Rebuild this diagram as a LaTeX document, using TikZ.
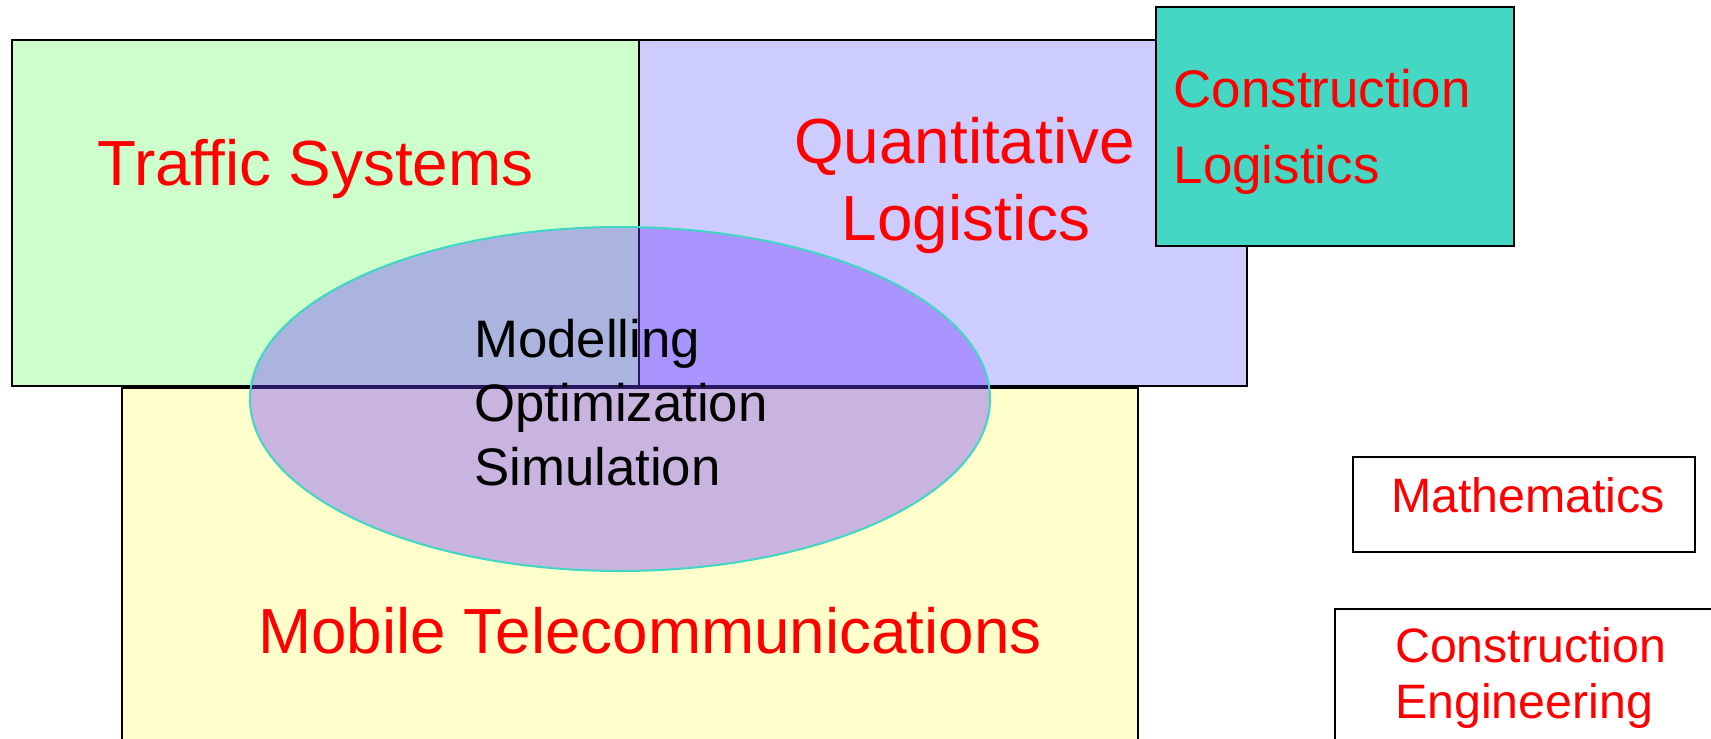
\documentclass[tikz,border=0pt]{standalone}
\usepackage{fontspec}
\setmainfont{Liberation Sans}
\usetikzlibrary{shapes.geometric}

\definecolor{trafficgreen}{RGB}{204,255,204}
\definecolor{logisticsblue}{RGB}{204,204,255}
\definecolor{mobileyellow}{RGB}{255,255,204}
\definecolor{constructionteal}{RGB}{68,216,196}
\definecolor{methodviolet}{RGB}{115,60,255}
\definecolor{ringturquoise}{RGB}{64,214,196}

\tikzset{
  area/.style={draw=black, line width=2.2pt, inner sep=0pt, anchor=north west},
  hugelabel/.style={text=red, inner sep=0pt, anchor=base,
    font=\fontsize{63.8}{76}\selectfont},
  midlabel/.style={text=red, inner sep=0pt, anchor=base west,
    font=\fontsize{52.9}{64}\selectfont},
  smalllabel/.style={text=red, inner sep=0pt, anchor=base west,
    font=\fontsize{48.3}{56}\selectfont},
  methodlabel/.style={text=black, inner sep=0pt, anchor=base west,
    font=\fontsize{52.8}{64}\selectfont},
}

\begin{document}
\begin{tikzpicture}[x=1pt, y=-1pt]
  \clip (0,0) rectangle (1711,739);
  \fill[white] (0,0) rectangle (1711,739);

  % research areas
  \node[area, fill=trafficgreen, minimum width=627pt, minimum height=346pt] (traffic) at (11,39) {};
  \node[area, fill=logisticsblue, minimum width=608pt, minimum height=346pt] (quant) at (638,39) {};
  \node[area, fill=mobileyellow, minimum width=1016pt, minimum height=373pt] (mobile) at (121,387) {};
  \node[area, fill=constructionteal, minimum width=358pt, minimum height=239pt] (conslog) at (1155,6) {};
  \node[area, fill=white, minimum width=342pt, minimum height=95pt] (math) at (1352,456) {};
  \node[area, fill=white, minimum width=396pt, minimum height=152pt] (conseng) at (1334,608) {};

  % area titles
  \node[hugelabel] (trafficT) at (315.5,185) {Traffic Systems};
  \node[hugelabel] (quantT1) at (964.5,163) {Quantitative};
  \node[hugelabel] (quantT2) at (966,240) {Logistics};
  \node[hugelabel] (mobileT) at (650,653) {Mobile Telecommunications};
  \node[midlabel] (conslogT1) at (1173.5,107) {Construction};
  \node[midlabel] (conslogT2) at (1173.5,183) {Logistics};
  \node[smalllabel] (mathT) at (1391,512) {Mathematics};
  \node[smalllabel] (consengT1) at (1395,662) {Construction};
  \node[smalllabel] (consengT2) at (1395,718) {Engineering};

  % shared methods
  \node[ellipse, draw=ringturquoise, line width=2pt,
        fill=methodviolet, fill opacity=0.38,
        minimum width=740pt, minimum height=344pt, inner sep=0pt] (methods) at (620,399) {};
  \node[methodlabel] (m1) at (474,357) {Modelling};
  \node[methodlabel] (m2) at (474,421) {Optimization};
  \node[methodlabel] (m3) at (474,485) {Simulation};
\end{tikzpicture}
\end{document}
